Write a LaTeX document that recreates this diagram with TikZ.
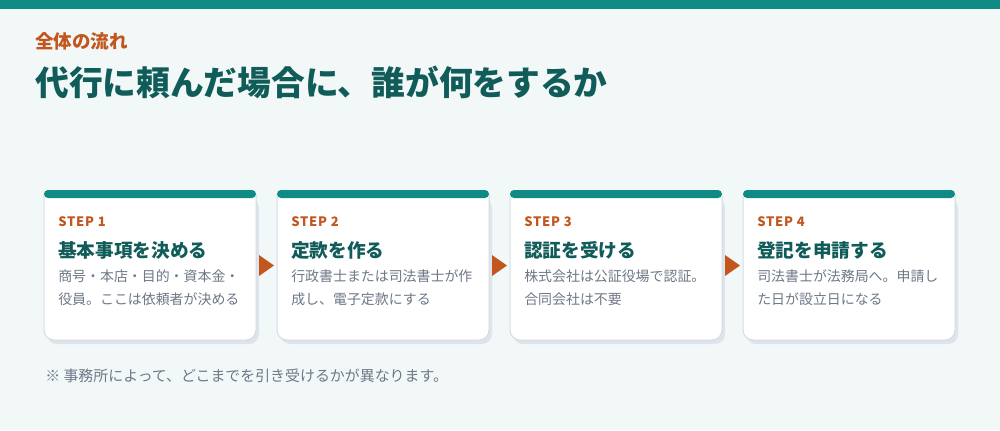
\documentclass[tikz,border=0pt]{standalone}
\usepackage{fontspec}
\setmainfont{Noto Sans CJK JP}
\definecolor{bgpale}{HTML}{F2F7F8}
\definecolor{tealbar}{HTML}{108A84}
\definecolor{tealdark}{HTML}{105C59}
\definecolor{orangeacc}{HTML}{C2561D}
\definecolor{greytext}{HTML}{6E7886}
\definecolor{cardline}{HTML}{D3DCE4}
\definecolor{shadowblue}{HTML}{DDE4EB}
\begin{document}
\begin{tikzpicture}[x=.75pt, y=-.75pt,
	card/.style={fill=white, draw=cardline, line width=.75pt, rounded corners=7.5pt},
	cardshadow/.style={fill=shadowblue, rounded corners=7.5pt},
	topbar/.style={fill=tealbar, rounded corners=3pt},
	nextarrow/.style={fill=orangeacc},
	steplabel/.style={anchor=base west, inner sep=0pt, text=orangeacc, font=\fontsize{9.75}{11}\selectfont\bfseries\addfontfeature{LetterSpace=6}},
	stephead/.style={anchor=base west, inner sep=0pt, text=tealdark, font=\fontsize{14}{16}\selectfont\bfseries},
	stepbody/.style={anchor=base west, inner sep=0pt, text=greytext, font=\fontsize{10.45}{12}\selectfont}]
	\useasboundingbox (0,0) rectangle (1000,430);
	\fill[bgpale] (0,0) rectangle (1000,430);
	\fill[tealbar] (0,0) rectangle (1000,9);
	% header
	\node[anchor=base west, inner sep=0pt, text=orangeacc, font=\fontsize{13.9}{16}\selectfont\bfseries] (kicker) at (35,48.5) {全体の流れ};
	\node[anchor=base west, inner sep=0pt, text=tealdark, font=\fontsize{25.3}{28}\selectfont\bfseries] (title) at (35,95.5) {代行に頼んだ場合に、誰が何をするか};
	% step 1
	\fill[cardshadow]  (47,198) -- (47,344) -- (259,344) -- (259,198) -- cycle;
	\filldraw[card]    (44,194) -- (44,340) -- (256,340) -- (256,194);
	\fill[topbar]      (44,190) rectangle (256,198);
	\node[steplabel] (s1)  at (58,226) {STEP 1};
	\node[stephead]  (h1)  at (58,257) {基本事項を決める};
	\node[stepbody]  (b1a) at (58,281) {商号・本店・目的・資本金・};
	\node[stepbody]  (b1b) at (58,304) {役員。ここは依頼者が決める};
	% step 2
	\fill[cardshadow]  (280,198) -- (280,344) -- (492,344) -- (492,198) -- cycle;
	\filldraw[card]    (277,194) -- (277,340) -- (489,340) -- (489,194);
	\fill[topbar]      (277,190) rectangle (489,198);
	\node[steplabel] (s2)  at (291,226) {STEP 2};
	\node[stephead]  (h2)  at (291,257) {定款を作る};
	\node[stepbody]  (b2a) at (291,281) {行政書士または司法書士が作};
	\node[stepbody]  (b2b) at (291,304) {成し、電子定款にする};
	% step 3
	\fill[cardshadow]  (513,198) -- (513,344) -- (725,344) -- (725,198) -- cycle;
	\filldraw[card]    (510,194) -- (510,340) -- (722,340) -- (722,194);
	\fill[topbar]      (510,190) rectangle (722,198);
	\node[steplabel] (s3)  at (524,226) {STEP 3};
	\node[stephead]  (h3)  at (524,257) {認証を受ける};
	\node[stepbody]  (b3a) at (524,281) {株式会社は公証役場で認証。};
	\node[stepbody]  (b3b) at (524,304) {合同会社は不要};
	% step 4
	\fill[cardshadow]  (746,198) -- (746,344) -- (958,344) -- (958,198) -- cycle;
	\filldraw[card]    (743,194) -- (743,340) -- (955,340) -- (955,194);
	\fill[topbar]      (743,190) rectangle (955,198);
	\node[steplabel] (s4)  at (757,226) {STEP 4};
	\node[stephead]  (h4)  at (757,257) {登記を申請する};
	\node[stepbody]  (b4a) at (757,281) {司法書士が法務局へ。申請し};
	\node[stepbody]  (b4b) at (757,304) {た日が設立日になる};
	% arrows
	\fill[nextarrow] (259,255) -- (274,265.5) -- (259,276) -- cycle;
	\fill[nextarrow] (492,255) -- (507,265.5) -- (492,276) -- cycle;
	\fill[nextarrow] (725,255) -- (740,265.5) -- (725,276) -- cycle;
	% note
	\node[anchor=base west, inner sep=0pt, text=greytext, font=\fontsize{11.2}{13}\selectfont] (note) at (45,381.5) {※ 事務所によって、どこまでを引き受けるかが異なります。};
\end{tikzpicture}
\end{document}
